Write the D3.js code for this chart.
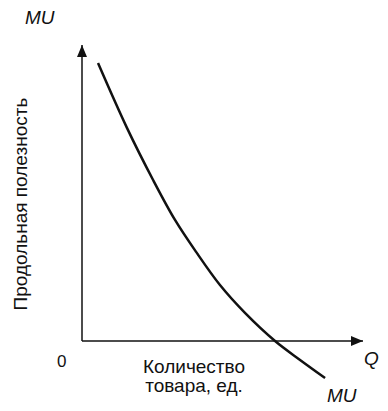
<!DOCTYPE html>
<html><head><meta charset="utf-8">
<script src="https://cdn.jsdelivr.net/npm/d3@7"></script>
<style>body{margin:0;background:#fff}text{font-family:"Liberation Sans",Arial,sans-serif;fill:#111}</style>
</head><body>
<script>
// Curve data (quantity Q vs marginal utility MU)
const qValues  = [0.57, 1.60, 2.53, 3.31, 4.06, 4.91, 5.80, 6.87, 7.76, 8.65];
const muValues = [9.39, 7.20, 5.44, 4.09, 3.01, 1.89, 0.95, 0.00, -0.64, -1.25];
const xAxisLabel = ["Количество", "товара, ед."];
const yAxisLabel = "Продольная полезность";
const originLabel = "0";

const W = 388, H = 411;
const svg = d3.select("body").append("svg").attr("width", W).attr("height", H);
const x = d3.scaleLinear().domain([0, 10]).range([82, 363]);
const y = d3.scaleLinear().domain([0, 10]).range([341, 45]);

const defs = svg.append("defs");
defs.append("marker").attr("id","arr").attr("viewBox","0 0 12 10")
  .attr("refX",12).attr("refY",5).attr("markerWidth",12).attr("markerHeight",10)
  .attr("markerUnits","userSpaceOnUse").attr("orient","auto")
  .append("path").attr("d","M0,0 L12,5 L0,10 Z").attr("fill","#111");

// axes
svg.append("line").attr("x1",x(0)).attr("y1",y(0)).attr("x2",x(0)).attr("y2",y(10))
  .attr("stroke","#111").attr("stroke-width",1.5).attr("marker-end","url(#arr)");
svg.append("line").attr("x1",x(0)).attr("y1",y(0)).attr("x2",x(10)).attr("y2",y(0))
  .attr("stroke","#111").attr("stroke-width",1.5).attr("marker-end","url(#arr)");

// curve
const pts = qValues.map((q,i)=>[q, muValues[i]]);
svg.append("path").datum(pts)
  .attr("d", d3.line().x(d=>x(d[0])).y(d=>y(d[1])).curve(d3.curveCatmullRom.alpha(0.5)))
  .attr("fill","none").attr("stroke","#111").attr("stroke-width",2.5);

// labels
svg.append("text").attr("x",25).attr("y",24).attr("font-size",19).attr("font-style","italic").text("MU");
svg.append("text").attr("x",327).attr("y",402).attr("font-size",19).attr("font-style","italic").text("MU");
svg.append("text").attr("x",364).attr("y",365).attr("font-size",19).attr("font-style","italic").text("Q");
svg.append("text").attr("x",57).attr("y",367).attr("font-size",17).text(originLabel);
svg.append("text").attr("x",194).attr("y",373).attr("font-size",19).attr("text-anchor","middle").text(xAxisLabel[0]);
svg.append("text").attr("x",194).attr("y",392).attr("font-size",19).attr("text-anchor","middle").text(xAxisLabel[1]);
svg.append("text").attr("transform","translate(27,204) rotate(-90)").attr("font-size",19)
  .attr("text-anchor","middle").text(yAxisLabel);
</script>
</body></html>
